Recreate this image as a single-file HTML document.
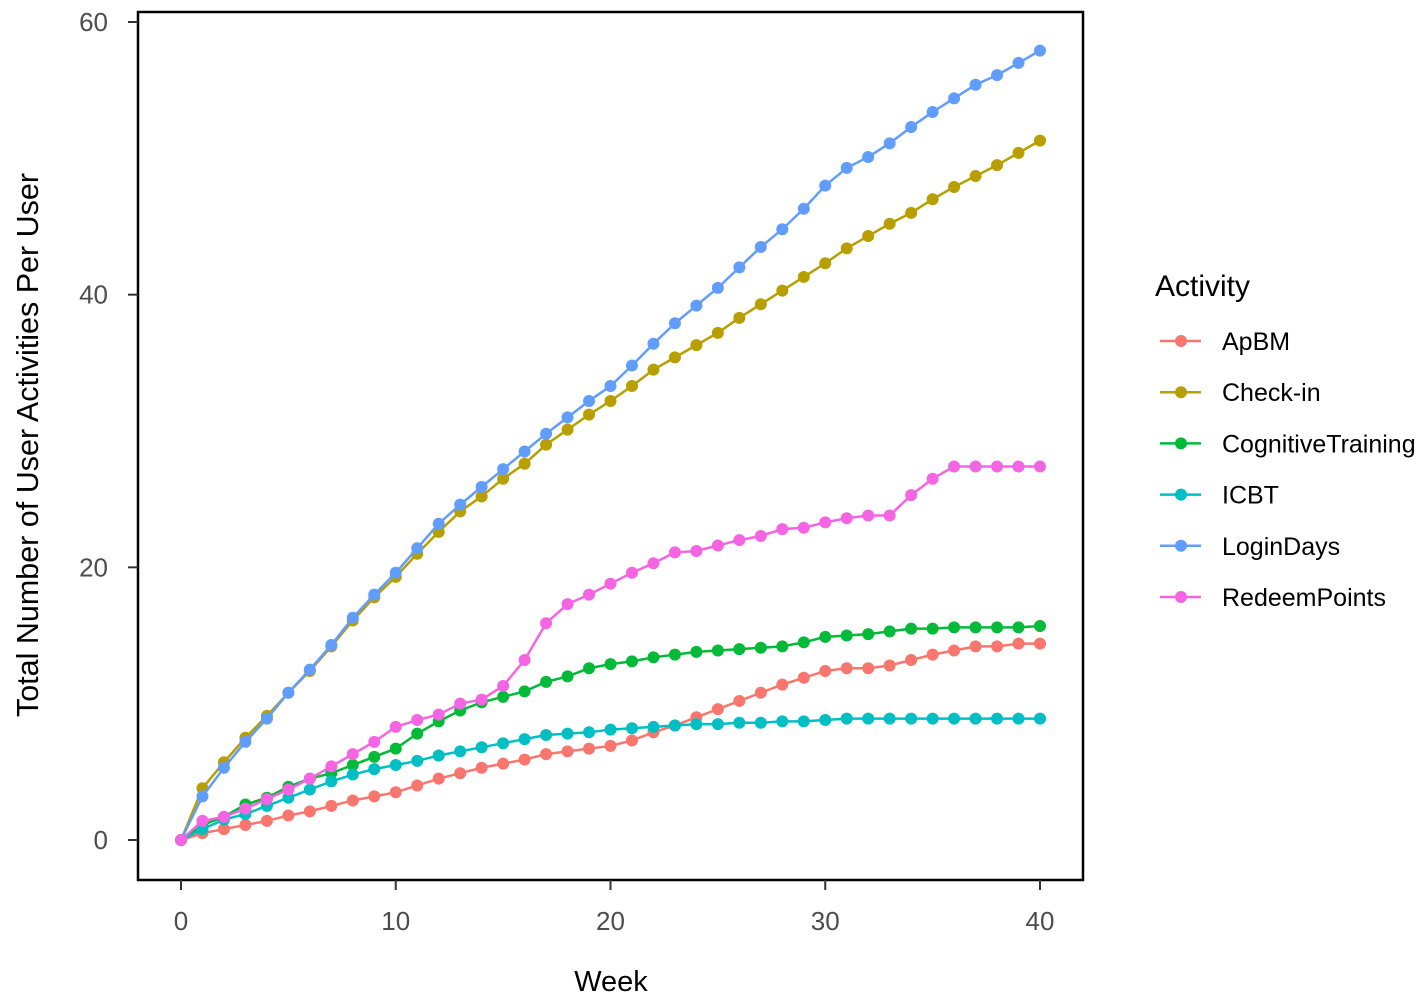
<!DOCTYPE html>
<html><head><meta charset="utf-8"><style>
body{margin:0;background:#fff;}
svg{display:block;font-family:"Liberation Sans",sans-serif;}
</style></head><body>
<svg id="chart" width="1417" height="997">
<rect x="138" y="12" width="945" height="868" fill="#fff" stroke="#000" stroke-width="2.5"/>
<g id="axes"></g>
<g id="series"></g>
<text x="611" y="991" font-size="29" text-anchor="middle" fill="#000">Week</text>
<text transform="translate(38,445) rotate(-90)" font-size="30.5" text-anchor="middle" fill="#000">Total Number of User Activities Per User</text>
<text x="1155" y="296" font-size="30" fill="#000">Activity</text>
<g id="legend"></g>
</svg>
<script>
const weeks = Array.from({length:41},(_,i)=>i);
const seriesNames = ["ApBM","Check-in","CognitiveTraining","ICBT","LoginDays","RedeemPoints"];
const seriesColors = ["#F8766D","#B79F00","#00BA38","#00BFC4","#619CFF","#F564E3"];
const apbm = [0,0.5,0.8,1.1,1.4,1.8,2.1,2.5,2.9,3.2,3.5,4.0,4.5,4.9,5.3,5.6,5.9,6.3,6.5,6.7,6.9,7.3,7.9,8.4,9.0,9.6,10.2,10.8,11.4,11.9,12.4,12.6,12.6,12.8,13.2,13.6,13.9,14.2,14.2,14.4,14.4];
const checkin = [0,3.8,5.7,7.5,9.1,10.8,12.4,14.2,16.1,17.8,19.3,21.0,22.6,24.1,25.2,26.5,27.6,29.0,30.1,31.2,32.2,33.3,34.5,35.4,36.3,37.2,38.3,39.3,40.3,41.3,42.3,43.4,44.3,45.2,46.0,47.0,47.9,48.7,49.5,50.4,51.3];
const cognitive = [0,1.1,1.7,2.6,3.1,3.9,4.5,4.9,5.5,6.1,6.7,7.8,8.7,9.5,10.1,10.5,10.9,11.6,12.0,12.6,12.9,13.1,13.4,13.6,13.8,13.9,14.0,14.1,14.2,14.5,14.9,15.0,15.1,15.3,15.5,15.5,15.6,15.6,15.6,15.6,15.7];
const icbt = [0,0.8,1.5,1.9,2.5,3.1,3.7,4.3,4.8,5.2,5.5,5.8,6.2,6.5,6.8,7.1,7.4,7.7,7.8,7.9,8.1,8.2,8.3,8.4,8.5,8.5,8.6,8.6,8.7,8.7,8.8,8.9,8.9,8.9,8.9,8.9,8.9,8.9,8.9,8.9,8.9];
const login = [0,3.2,5.3,7.2,8.9,10.8,12.5,14.3,16.3,18.0,19.6,21.4,23.2,24.6,25.9,27.2,28.5,29.8,31.0,32.2,33.3,34.8,36.4,37.9,39.2,40.5,42.0,43.5,44.8,46.3,48.0,49.3,50.1,51.1,52.3,53.4,54.4,55.4,56.1,57.0,57.9];
const redeem = [0,1.4,1.7,2.3,3.0,3.7,4.5,5.4,6.3,7.2,8.3,8.8,9.2,10.0,10.3,11.3,13.2,15.9,17.3,18.0,18.8,19.6,20.3,21.1,21.2,21.6,22.0,22.3,22.8,22.9,23.3,23.6,23.8,23.8,25.3,26.5,27.4,27.4,27.4,27.4,27.4];
const xTicks = [0,10,20,30,40];
const yTicks = [0,20,40,60];
const drawOrder = [0,1,2,3,4,5];

const NS="http://www.w3.org/2000/svg";
const xs=v=>181+v*(1040-181)/40;
const ys=v=>840-v*(840-22)/60;
function mk(t,a,p){const e=document.createElementNS(NS,t);for(const k in a)e.setAttribute(k,a[k]);p.appendChild(e);return e;}
const axes=document.getElementById('axes');
xTicks.forEach(t=>{
  const l=mk('line',{x1:xs(t),x2:xs(t),y1:880,y2:890,stroke:'#333','stroke-width':2},axes);
  
  
  const tx=mk('text',{x:xs(t),y:930,'font-size':26,'text-anchor':'middle',fill:'#4d4d4d'},axes);
  tx.textContent=t;
  
  
});
yTicks.forEach(t=>{
  const l=mk('line',{x1:128,x2:138,y1:ys(t),y2:ys(t),stroke:'#333','stroke-width':2},axes);
  
  
  const tx=mk('text',{x:108,y:ys(t)+9,'font-size':26,'text-anchor':'end',fill:'#4d4d4d'},axes);
  tx.textContent=t;
  
  
});
const data=[apbm,checkin,cognitive,icbt,login,redeem];
const sg=document.getElementById('series');
drawOrder.forEach(i=>{
  const g=mk('g',{},sg);
  
  
  const pts=data[i].map((v,j)=>xs(weeks[j])+','+ys(v)).join(' ');
  const pl=mk('polyline',{points:pts,fill:'none',stroke:seriesColors[i],'stroke-width':2.5},g);
  
  
  data[i].forEach((v,j)=>{
    const c=mk('circle',{cx:xs(weeks[j]),cy:ys(v),r:6,fill:seriesColors[i]},g);
    
    
  });
});
const lg=document.getElementById('legend');
seriesNames.forEach((n,i)=>{
  const y=341+i*51.2;
  const g=mk('g',{},lg);
  
  
  mk('line',{x1:1160,x2:1201,y1:y,y2:y,stroke:seriesColors[i],'stroke-width':2.5},g);
  mk('circle',{cx:1181,cy:y,r:6,fill:seriesColors[i]},g);
  const t=mk('text',{x:1222,y:y+9,'font-size':25,fill:'#000'},g);
  t.textContent=n;
});
</script>
</body></html>
